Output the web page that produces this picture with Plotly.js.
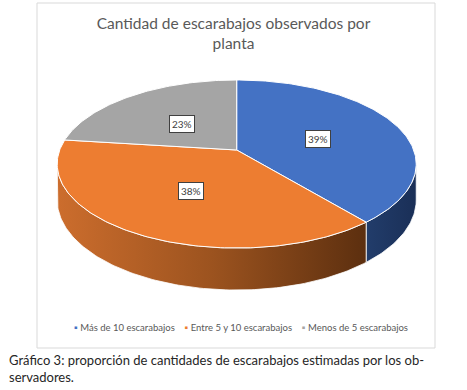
<!DOCTYPE html>
<html>
<head>
<meta charset="utf-8">
<script src="https://cdn.plot.ly/plotly-3.0.1.min.js"></script>
<style>html,body{margin:0;padding:0;background:#fff;}#chart{width:467px;height:390px;}</style>
</head>
<body>
<div id="chart"></div>
<script>
// ---- data ----
const categories = ['Más de 10 escarabajos', 'Entre 5 y 10 escarabajos', 'Menos de 5 escarabajos'];
const values = [39, 38, 23];
const valueLabels = ['39%', '38%', '23%'];
const chartTitle = 'Cantidad de escarabajos observados por<br>planta';
const caption = 'Gráfico 3: proporción de cantidades de escarabajos estimadas por los ob-<br>servadores.';

// ---- styles ----
const topColors = ['#4472C4', '#ED7D31', '#A5A5A5'];
const sideScales = [
  [[0, '#223d6b'], [1, '#1a2f57']],
  [[0, '#cc6d2d'], [0.5, '#9c531f'], [1, '#5c2f0f']],
  [[0, '#8a8a8a'], [1, '#6a6a6a']]
];
const FONT = 'Lato, "Open Sans", sans-serif';

// ---- projection (tilted, slightly perspective pie) ----
const CX = 236.7, CY = 150, A = 177, B = 81.7, P = 1 / 6, H = 35;
function proj(th, r) {
  const u = r * Math.sin(th), w = r * Math.cos(th), d = 1 + P * w;
  return [CX + A * u / d, CY - B * w / d, H / d];
}
const TAU = 2 * Math.PI;
const total = values.reduce((a, b) => a + b, 0);
const starts = [], ends = [];
let acc = 0;
values.forEach(v => { starts.push(acc / total * TAU); acc += v; ends.push(acc / total * TAU); });

function arc(a, b) {
  const n = Math.max(2, Math.ceil((b - a) / (Math.PI / 180)));
  const pts = [];
  for (let i = 0; i <= n; i++) pts.push(a + (b - a) * i / n);
  return pts;
}

const traces = [];
const thR = Math.acos(-P), thL = TAU - thR;
// side faces
values.forEach((v, i) => {
  const a = Math.max(starts[i], thR), b = Math.min(ends[i], thL);
  if (b <= a) return;
  const ths = arc(a, b);
  const xs = [], ys = [];
  ths.forEach(t => { const p = proj(t, 1); xs.push(p[0]); ys.push(p[1]); });
  ths.slice().reverse().forEach(t => { const p = proj(t, 1); xs.push(p[0]); ys.push(p[1] + p[2]); });
  xs.push(xs[0]); ys.push(ys[0]);
  traces.push({
    type: 'scatter', mode: 'lines', x: xs, y: ys, fill: 'toself',
    fillcolor: sideScales[i][0][1],
    fillgradient: {type: 'horizontal', colorscale: sideScales[i]},
    line: {color: '#ffffff', width: 0.8}, hoverinfo: 'skip', showlegend: false
  });
});
// top faces
values.forEach((v, i) => {
  const xs = [CX], ys = [CY];
  arc(starts[i], ends[i]).forEach(t => { const p = proj(t, 1); xs.push(p[0]); ys.push(p[1]); });
  xs.push(CX); ys.push(CY);
  traces.push({
    type: 'scatter', mode: 'lines', x: xs, y: ys, fill: 'toself',
    fillcolor: topColors[i], line: {color: '#ffffff', width: 1},
    name: categories[i], text: valueLabels[i], hoverinfo: 'name+text', showlegend: false
  });
});

// value labels
const annotations = values.map((v, i) => {
  const p = proj((starts[i] + ends[i]) / 2, 0.5);
  return {
    x: p[0], y: p[1] + 2.5, xref: 'x', yref: 'y', text: valueLabels[i], showarrow: false,
    font: {family: FONT, size: 10, color: '#404040'},
    bgcolor: '#ffffff', bordercolor: '#404040', borderwidth: 1, borderpad: 2
  };
});
// legend
const legendText = categories.map((c, i) =>
  '<span style="color:' + topColors[i] + '">▪</span> ' + c).join('    ');
annotations.push({
  x: 241, y: 327, xref: 'x', yref: 'y', text: legendText, showarrow: false,
  font: {family: FONT, size: 9.5, color: '#595959'}
});
// caption
annotations.push({
  x: 7, y: 368, xref: 'x', yref: 'y', xanchor: 'left', align: 'left', text: caption, showarrow: false,
  font: {family: FONT, size: 13, color: '#262626'}
});

const layout = {
  width: 467, height: 390, margin: {l: 0, r: 0, t: 0, b: 0},
  paper_bgcolor: '#ffffff', plot_bgcolor: '#ffffff',
  title: {
    text: chartTitle, x: 0.5, xanchor: 'center', xref: 'paper',
    y: 1 - 29 / 390, yref: 'container', yanchor: 'top',
    font: {family: FONT, size: 15.5, color: '#595959'}
  },
  xaxis: {range: [0, 467], visible: false, fixedrange: true},
  yaxis: {range: [390, 0], visible: false, fixedrange: true},
  shapes: [{type: 'rect', xref: 'x', yref: 'y', x0: 37, x1: 435, y0: 3, y1: 348,
            line: {color: '#d9d9d9', width: 1}, fillcolor: 'rgba(0,0,0,0)', layer: 'below'}],
  annotations: annotations,
  showlegend: false
};
Plotly.newPlot('chart', traces, layout, {displayModeBar: false, staticPlot: true});
</script>
</body>
</html>
